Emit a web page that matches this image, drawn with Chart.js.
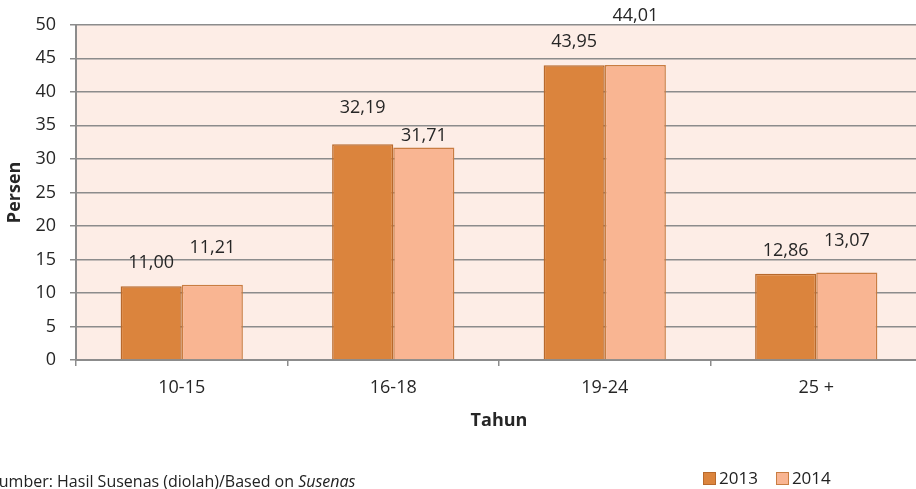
<!DOCTYPE html>
<html>
<head>
<meta charset="utf-8">
<script src="https://cdn.jsdelivr.net/npm/chart.js@4.4.1/dist/chart.umd.min.js"></script>
<style>
    html, body { margin: 0; padding: 0; background: #fff; overflow: hidden; width: 916px; height: 489px; }
    #wrap { position: absolute; left: 0; top: 0; width: 922px; height: 489px; }
    #source { position: absolute; left: -10px; top: 470px; font: 16px "Open Sans", sans-serif; color: #222; white-space: nowrap; }
    #legend { position: absolute; left: 703px; top: 466px; font: 17px "Open Sans", sans-serif; color: #222; white-space: nowrap; }
    #legend span.box { display: inline-block; width: 11px; height: 11px; margin-right: 3px; vertical-align: -1px; }
    #legend span.item { margin-right: 18px; }
</style>
</head>
<body>
<div id="wrap"><canvas id="myChart"></canvas></div>
<div id="source">Sumber: Hasil Susenas (diolah)/Based on <i>Susenas</i></div>
<div id="legend"></div>

<script>
const categories = ["10-15", "16-18", "19-24", "25 +"];
const seriesNames = ["2013", "2014"];
const values2013 = [11.00, 32.19, 43.95, 12.86];
const values2014 = [11.21, 31.71, 44.01, 13.07];
const yTicks = [0, 5, 10, 15, 20, 25, 30, 35, 40, 45, 50];

// how far each value label sits above its bar (px), as placed in the original
const labelLift = [
    [23, 36, 23, 23],
    [37, 12, 49, 32]
];

const fillColors = ["#DB843D", "#F9B592"];
const borderColors = ["#B8692C", "#C97D42"];
const gridGray = "#8C8C8C";
const fontFamily = "'Open Sans', sans-serif";

const plotBackground = {
    id: "plotBackground",
    beforeDraw(chart) {
        const a = chart.chartArea;
        const ctx = chart.ctx;
        ctx.save();
        ctx.fillStyle = "#FDEDE6";
        ctx.fillRect(a.left, a.top, a.right - a.left, a.bottom - a.top);
        ctx.restore();
    }
};

const valueLabels = {
    id: "valueLabels",
    afterDatasetsDraw(chart) {
        const ctx = chart.ctx;
        ctx.save();
        ctx.font = "18px " + fontFamily;
        ctx.fillStyle = "#262626";
        ctx.textAlign = "center";
        ctx.textBaseline = "middle";
        chart.data.datasets.forEach((ds, d) => {
            const meta = chart.getDatasetMeta(d);
            meta.data.forEach((bar, i) => {
                const text = ds.data[i].toFixed(2).replace(".", ",");
                ctx.fillText(text, bar.x, bar.y - labelLift[d][i]);
            });
        });
        ctx.restore();
    }
};

function showLegend() {
    const legend = document.getElementById("legend");
    seriesNames.forEach((name, i) => {
        const item = document.createElement("span");
        item.className = "item";
        const box = document.createElement("span");
        box.className = "box";
        box.style.background = fillColors[i];
        box.style.border = "1px solid " + borderColors[i];
        item.appendChild(box);
        item.appendChild(document.createTextNode(name));
        legend.appendChild(item);
    });
}

function showChart() {
    const ctx = document.getElementById("myChart");

    const myChart = new Chart(ctx, {
        type: "bar",
        data: {
            labels: categories,
            datasets: [
                {
                    label: seriesNames[0],
                    data: values2013,
                    backgroundColor: fillColors[0],
                    borderColor: borderColors[0],
                    borderWidth: 1.5,
                },
                {
                    label: seriesNames[1],
                    data: values2014,
                    backgroundColor: fillColors[1],
                    borderColor: borderColors[1],
                    borderWidth: 1.5,
                },
            ],
        },
        options: {
            responsive: true,
            maintainAspectRatio: false,
            animation: false,
            devicePixelRatio: 1,
            layout: {
                padding: {top: 23, right: 0, bottom: 57, left: 0}
            },
            datasets: {
                bar: {
                    barPercentage: 1,
                    categoryPercentage: 0.578
                }
            },
            plugins: {
                legend: {display: false},
                tooltip: {enabled: false}
            },
            scales: {
                x: {
                    afterFit(scale) {
                        scale.height = 72;
                    },
                    grid: {
                        drawOnChartArea: false,
                        drawTicks: true,
                        tickLength: 6,
                        color: gridGray,
                        lineWidth: 1.5
                    },
                    border: {color: gridGray, width: 2},
                    ticks: {
                        color: "#262626",
                        padding: 11,
                        font: {family: fontFamily, size: 18}
                    },
                    title: {
                        display: true,
                        text: "Tahun",
                        color: "#262626",
                        padding: {top: 0, bottom: 0},
                        font: {family: fontFamily, size: 18, weight: "bold"}
                    }
                },
                y: {
                    min: yTicks[0],
                    max: yTicks[yTicks.length - 1],
                    afterFit(scale) {
                        scale.width = 76;
                    },
                    afterBuildTicks(scale) {
                        scale.ticks = yTicks.map(v => ({value: v}));
                    },
                    grid: {
                        color: gridGray,
                        lineWidth: 1.5,
                        drawTicks: true,
                        tickLength: 6
                    },
                    border: {color: gridGray, width: 2},
                    ticks: {
                        color: "#262626",
                        padding: 14,
                        font: {family: fontFamily, size: 18}
                    },
                    title: {
                        display: true,
                        text: "Persen",
                        color: "#262626",
                        padding: {top: 4, bottom: 0},
                        font: {family: fontFamily, size: 18, weight: "bold"}
                    }
                }
            }
        },
        plugins: [plotBackground, valueLabels]
    });
}

showLegend();
showChart();
</script>
</body>
</html>
